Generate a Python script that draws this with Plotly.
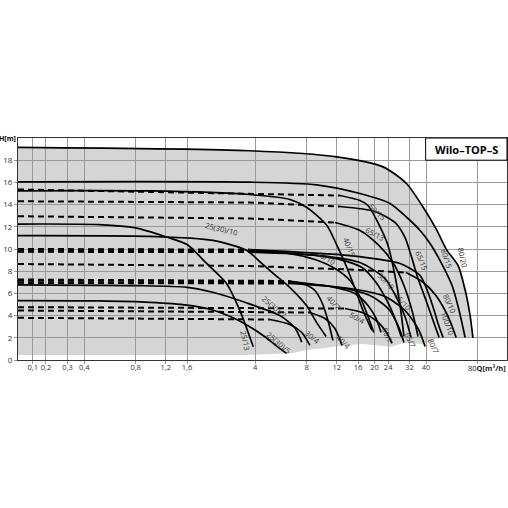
import numpy as np
import plotly.graph_objects as go

# axis ticks (the first three labels sit at the chart's own spacing)
tick_q = [0.2, 0.239, 0.32, 0.4, 0.8, 1.2, 1.6, 4, 8, 12, 16, 20, 24, 32, 40, 80]
tick_txt = ['0,1', '0,2', '0,3', '0,4', '0,8', '1,2', '1,6', '4', '8', '12', '16', '20', '24', '32', '40', '']
h_ticks = [0, 2, 4, 6, 8, 10, 12, 14, 16, 18]

# lower edge of the grey operating field
area_q = [0.164, 3.5, 5.0, 6.5, 8.0, 10.0, 13.0, 17.0, 21.0, 25.0, 30.0, 38.0, 46.0, 52.0, 75.2]
area_h = [0.45, 0.45, 0.55, 0.6, 0.9, 1.05, 1.3, 1.45, 1.3, 1.2, 1.55, 1.45, 1.9, 2.05, 2.0]

# pump curves Q [m3/h], H [m]
q_80_20 = [0.164, 3.72, 12.0, 22.4, 30.7, 38.3, 46.2, 52.9, 61.6, 67.7, 72.4, 75.2]
h_80_20 = [19.15, 18.85, 18.3, 17.4, 15.9, 13.8, 11.7, 9.9, 8.5, 6.3, 4.0, 2.0]
q_80_15 = [0.164, 3.72, 9.16, 16.4, 24.6, 30.8, 36.9, 42.2, 49.0, 56.8, 62.4, 67.7]
h_80_15 = [16.05, 16.02, 15.78, 15.0, 14.1, 12.86, 11.67, 10.5, 8.78, 6.71, 4.46, 2.03]
q_40_15 = [0.164, 0.966, 3.72, 6.39, 8.04, 10.52, 12.04, 13.6, 15.35, 17.1, 19.3]
h_40_15 = [15.24, 15.23, 14.91, 14.46, 13.74, 12.12, 10.32, 8.51, 6.44, 4.46, 2.66]
q_50_15 = [0.164, 3.72, 12.54, 16.42, 18.3, 20.9, 23.96, 26.3, 28.2, 29.7]
h_50_15 = [15.36, 15.0, 14.82, 14.37, 13.92, 12.39, 10.32, 7.61, 4.91, 2.12]
q_65_15 = [0.164, 3.72, 12.54, 20.1, 26.3, 30.1, 32.7, 35.9, 40.0, 43.96, 47.7]
h_65_15 = [14.3, 14.19, 13.83, 13.38, 12.39, 11.04, 9.41, 7.34, 5.36, 3.56, 2.03]
q_65_13 = [0.164, 3.72, 11.72, 16.42, 20.9, 25.6, 29.7, 33.1, 35.9]
h_65_13 = [12.95, 12.75, 12.39, 11.67, 10.41, 8.78, 6.71, 4.46, 2.12]
q_25_13 = [0.164, 0.49, 0.8, 1.2, 1.6, 2.08, 2.72, 3.25, 3.9]
h_25_13 = [12.25, 12.2, 11.9, 11.1, 10.4, 8.7, 6.9, 4.5, 1.2]
q_25_10 = [0.164, 0.966, 2.26, 3.58, 4.32, 5.2, 6.39, 7.99, 9.13, 10.4]
h_25_10 = [11.2, 11.13, 10.77, 9.86, 8.78, 7.7, 6.53, 4.91, 3.41, 2.12]
q_40_10 = [0.164, 3.72, 6.39, 8.95, 11.72, 14.35, 16.6, 18.3, 19.8]
h_40_10 = [9.95, 9.9, 9.59, 9.05, 8.24, 7.16, 5.54, 3.92, 2.48]
q_50_10 = [0.164, 3.72, 7.31, 12.54, 16.9, 20.4, 23.6, 26.3, 28.6]
h_50_10 = [9.8, 9.78, 9.55, 9.05, 8.33, 6.98, 5.36, 3.74, 2.12]
q_65_10 = [0.164, 3.72, 9.57, 16.42, 23.0, 26.7, 30.1, 32.7]
h_65_10 = [9.75, 9.72, 9.41, 8.78, 7.34, 5.72, 3.92, 2.03]
q_100_10 = [0.164, 3.72, 14.35, 28.2, 36.9, 41.1, 44.6, 47.0, 50.3]
h_100_10 = [10.0, 9.95, 9.41, 8.69, 7.61, 6.08, 4.46, 3.29, 2.03]
q_80_10 = [0.164, 3.72, 14.35, 30.5, 37.9, 45.2, 51.7, 56.0, 60.0]
h_80_10 = [8.65, 8.47, 8.15, 7.88, 7.07, 5.9, 4.46, 3.29, 2.03]
q_40_7 = [0.164, 6.39, 7.82, 8.95, 9.84, 10.67, 11.41]
h_40_7 = [7.25, 7.12, 6.8, 6.26, 5.18, 3.56, 1.76]
q_50_7 = [0.164, 6.39, 10.96, 15.35, 18.3, 20.4, 21.8]
h_50_7 = [7.2, 7.07, 6.62, 5.99, 4.91, 3.74, 2.48]
q_65_7 = [0.164, 6.39, 12.54, 18.8, 23.96, 27.4, 29.7]
h_65_7 = [7.0, 6.98, 6.53, 5.81, 4.64, 3.11, 1.58]
q_80_7 = [0.164, 6.39, 14.35, 23.0, 30.1, 35.9, 39.5]
h_80_7 = [6.95, 6.89, 6.44, 5.72, 4.46, 2.84, 1.22]
q_25_7 = [0.164, 0.8, 1.6, 2.26, 3.48, 5.58, 6.83, 7.5]
h_25_7 = [6.77, 6.7, 6.55, 6.1, 5.2, 4.0, 2.9, 1.6]
q_25_5 = [0.164, 0.49, 0.966, 1.6, 2.26, 2.97, 3.72, 4.56, 5.3, 6.1]
h_25_5 = [5.35, 5.32, 5.2, 4.95, 4.5, 3.8, 3.0, 2.1, 1.3, 0.6]
q_30_4 = [0.164, 4.88, 6.39, 7.5, 8.37]
h_30_4 = [3.8, 3.65, 3.2, 2.48, 1.31]
q_40_4 = [0.164, 8.37, 10.24, 11.72, 12.9]
h_40_4 = [4.46, 4.28, 3.74, 2.84, 1.31]
q_50_4 = [0.164, 13.41, 16.9, 20.4, 23.3, 25.3]
h_50_4 = [4.76, 4.64, 4.28, 3.56, 2.57, 1.49]

# (curve, index where the solid part begins)
curves = [
    (q_80_15, h_80_15, 0), (q_40_15, h_40_15, 0), (q_50_15, h_50_15, 2),
    (q_65_15, h_65_15, 2), (q_65_13, h_65_13, 2), (q_25_13, h_25_13, 0),
    (q_25_10, h_25_10, 0), (q_40_10, h_40_10, 1), (q_50_10, h_50_10, 1),
    (q_65_10, h_65_10, 1), (q_100_10, h_100_10, 1), (q_80_10, h_80_10, 3),
    (q_40_7, h_40_7, 1), (q_50_7, h_50_7, 1), (q_65_7, h_65_7, 1),
    (q_80_7, h_80_7, 1), (q_25_7, h_25_7, 0), (q_25_5, h_25_5, 0),
    (q_30_4, h_30_4, 1), (q_40_4, h_40_4, 1), (q_50_4, h_50_4, 1),
]

# curve labels: text, Q, H, angle
labels = [
    ('25(30)/10', 2.55, 11.8, 14), ('40/10', 10.4, 9.2, 30), ('50/10', 23.3, 7.1, 45),
    ('65/10', 29.3, 5.27, 50), ('80/10', 55.3, 5.09, 65), ('100/10', 53.1, 3.29, 70),
    ('50/15', 20.7, 13.29, 42), ('65/13', 20.1, 11.35, 28), ('40/15', 14.2, 10.14, 68),
    ('65/15', 37.9, 8.96, 68), ('80/15', 53.1, 9.14, 72), ('80/20', 65.9, 9.23, 78),
    ('25(30)/7', 5.2, 4.8, 40), ('40/7', 11.6, 5.18, 48), ('50/4', 15.8, 3.74, 30),
    ('50/7', 23.6, 2.21, 70), ('65/7', 32.2, 1.76, 65), ('80/7', 44.0, 1.22, 65),
    ('30/4', 8.6, 2.03, 40), ('40/4', 13.1, 1.58, 45), ('25(30)/5', 5.51, 1.49, 40),
    ('25/13', 3.48, 1.76, 78),
]

FONT = 'Open Sans'
fig = go.Figure()

# grey field
fig.add_trace(go.Scatter(x=area_q, y=area_h, mode='lines', line=dict(width=0),
                         showlegend=False, hoverinfo='skip'))
fig.add_trace(go.Scatter(x=q_80_20, y=h_80_20, mode='lines', fill='tonexty',
                         fillcolor='rgba(150,150,150,0.4)',
                         line=dict(color='black', width=1.7, shape='spline', smoothing=0.7),
                         showlegend=False))

for q, h, k in curves:
    if k > 0:
        fig.add_trace(go.Scatter(x=q[:k + 1], y=h[:k + 1], mode='lines',
                                 line=dict(color='black', width=2, dash='6px,4px'),
                                 showlegend=False))
    fig.add_trace(go.Scatter(x=q[k:], y=h[k:], mode='lines',
                             line=dict(color='black', width=1.7, shape='spline', smoothing=0.7),
                             showlegend=False))

for txt, q, h, ang in labels:
    fig.add_annotation(x=np.log10(q), y=h, text=txt, showarrow=False, textangle=ang,
                       xanchor='center', yanchor='middle',
                       font=dict(family=FONT, size=7.5, color='#333'))

# title box
fig.add_shape(type='rect', xref='paper', yref='y', x0=0.8336, x1=1.0, y0=18, y1=20,
              fillcolor='white', line=dict(color='black', width=1), layer='above')
fig.add_annotation(xref='paper', yref='y', x=0.917, y=19, xanchor='center', yanchor='middle',
                   text='<b>Wilo–TOP–S</b>', showarrow=False,
                   font=dict(family=FONT, size=11, color='black'))
fig.add_annotation(xref='paper', yref='paper', x=0, y=1, xanchor='right', yanchor='middle',
                   text='<b>H[m]</b>', showarrow=False,
                   font=dict(family=FONT, size=7, color='black'))
# last Q tick written together with the axis unit
fig.add_annotation(xref='paper', yref='paper', x=1, y=0, xanchor='right', yanchor='top',
                   xshift=1, yshift=-1, text='80<b>Q[m³/h]</b>', showarrow=False,
                   font=dict(family=FONT, size=7.5, color='#222'))

fig.update_xaxes(type='log', range=[np.log10(0.164), np.log10(119)],
                 tickvals=tick_q, ticktext=tick_txt, tickangle=0, showgrid=True,
                 gridcolor='#9a9a9a', gridwidth=1, ticks='outside', ticklen=3,
                 tickcolor='#9a9a9a', showline=True, linecolor='#333', linewidth=1,
                 mirror=True, zeroline=False, ticklabelstandoff=-3,
                 tickfont=dict(family=FONT, size=7.5, color='#333'))
fig.update_yaxes(range=[0, 20], tickvals=h_ticks, showgrid=True, gridcolor='#9a9a9a',
                 gridwidth=1, ticks='outside', ticklen=3, tickcolor='#9a9a9a',
                 showline=True, linecolor='#333', linewidth=1, mirror=True, zeroline=False,
                 tickfont=dict(family=FONT, size=8, color='#333'))
fig.update_layout(width=508, height=508, plot_bgcolor='white', paper_bgcolor='white',
                  margin=dict(l=18, r=1, t=138, b=148), showlegend=False)

fig.write_html("out.html", config={'displayModeBar': False},
               post_script="document.body.style.margin='0';")
